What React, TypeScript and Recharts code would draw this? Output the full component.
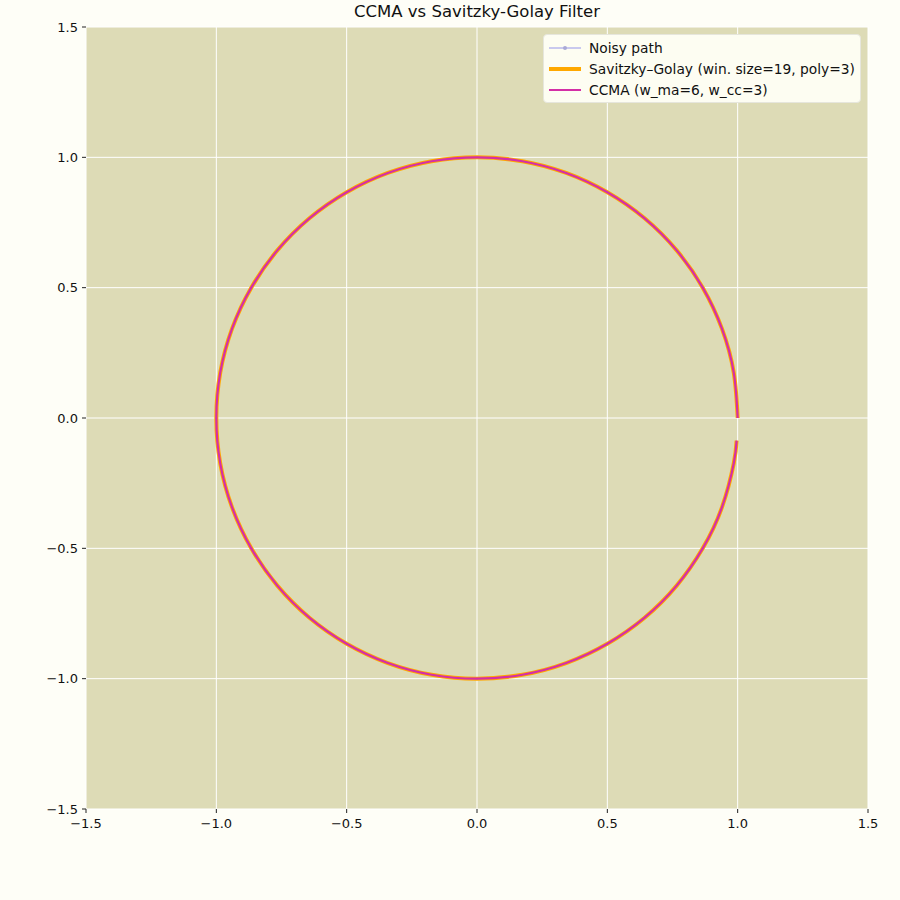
import React from 'react';
import { LineChart, Line, XAxis, YAxis, CartesianGrid } from 'recharts';

// path points (counter-clockwise from (1, 0), gap near the end)
const pathX = [1.0, 0.985, 0.94, 0.866, 0.766, 0.643, 0.5, 0.342, 0.174, 0.0, -0.174, -0.342, -0.5, -0.643, -0.766, -0.866, -0.94, -0.985, -1.0, -0.985, -0.94, -0.866, -0.766, -0.643, -0.5, -0.342, -0.174, 0.0, 0.174, 0.342, 0.5, 0.643, 0.766, 0.866, 0.94, 0.985, 0.996];
const pathY = [0.0, 0.174, 0.342, 0.5, 0.643, 0.766, 0.866, 0.94, 0.985, 1.0, 0.985, 0.94, 0.866, 0.766, 0.643, 0.5, 0.342, 0.174, 0.0, -0.174, -0.342, -0.5, -0.643, -0.766, -0.866, -0.94, -0.985, -1.0, -0.985, -0.94, -0.866, -0.766, -0.643, -0.5, -0.342, -0.174, -0.087];

const ticks = [-1.5, -1.0, -0.5, 0.0, 0.5, 1.0, 1.5];

const seriesNames = [
  'Noisy path',
  'Savitzky–Golay (win. size=19, poly=3)',
  'CCMA (w_ma=6, w_cc=3)',
];
const seriesColors = ['#c9c9ee', '#ffa800', '#d42fa6'];

const points = pathX.map((x, i) => ({ x, y: pathY[i] }));

const fmt = (v: number) => (v < 0 ? '\u2212' + Math.abs(v).toFixed(1) : v.toFixed(1));

const font = '"DejaVu Sans", sans-serif';

const LegendBox = () => (
  <div
    style={{
      position: 'absolute',
      top: 34,
      left: 543,
      background: '#fdfdf2',
      border: '1px solid #e6e6dc',
      borderRadius: 4,
      padding: '2px 5px 2px 4px',
      fontFamily: font,
      fontSize: 13.8,
      color: '#111',
    }}
  >
    {seriesNames.map((name, i) => (
      <div key={name} style={{ display: 'flex', alignItems: 'center', height: 21 }}>
        <svg width={34} height={10} style={{ marginRight: 7 }}>
          <line x1={1} y1={5} x2={33} y2={5} stroke={seriesColors[i]} strokeWidth={i === 1 ? 4 : 2} />
          {i === 0 && <circle cx={17} cy={5} r={2} fill="#a9a9d6" />}
        </svg>
        <span>{name}</span>
      </div>
    ))}
  </div>
);

export default function App() {
  return (
    <div style={{ position: 'absolute', left: 0, top: 0, width: 900, height: 900, background: '#fefef7' }}>
      <div
        style={{
          position: 'absolute',
          top: 2,
          left: 86,
          width: 782,
          textAlign: 'center',
          fontFamily: font,
          fontSize: 16.5,
          color: '#111',
        }}
      >
        CCMA vs Savitzky-Golay Filter
      </div>
      <LineChart width={900} height={900} margin={{ top: 27, right: 32, bottom: 61, left: 26 }}>
        <CartesianGrid stroke="#ffffff" strokeWidth={1} fill="#dddbb6" fillOpacity={1} />
        <XAxis
          type="number"
          dataKey="x"
          domain={[-1.5, 1.5]}
          ticks={ticks}
          tickFormatter={fmt}
          axisLine={false}
          tickLine={{ stroke: '#222' }}
          tickSize={4}
          tickMargin={6}
          height={30}
          tick={{ fill: '#111', fontSize: 13, fontFamily: font }}
          allowDataOverflow
        />
        <YAxis
          type="number"
          dataKey="y"
          domain={[-1.5, 1.5]}
          ticks={ticks}
          tickFormatter={fmt}
          axisLine={false}
          tickLine={{ stroke: '#222' }}
          tickSize={4}
          tickMargin={4}
          width={60}
          tick={{ fill: '#111', fontSize: 13, fontFamily: font }}
          allowDataOverflow
        />
        <Line
          data={points}
          dataKey="y"
          type="natural"
          stroke={seriesColors[0]}
          strokeWidth={1.5}
          dot={false}
          isAnimationActive={false}
        />
        <Line
          data={points}
          dataKey="y"
          type="natural"
          stroke={seriesColors[1]}
          strokeWidth={4}
          dot={false}
          isAnimationActive={false}
        />
        <Line
          data={points}
          dataKey="y"
          type="natural"
          stroke={seriesColors[2]}
          strokeWidth={2.2}
          dot={false}
          isAnimationActive={false}
        />
      </LineChart>
      <LegendBox />
    </div>
  );
}
